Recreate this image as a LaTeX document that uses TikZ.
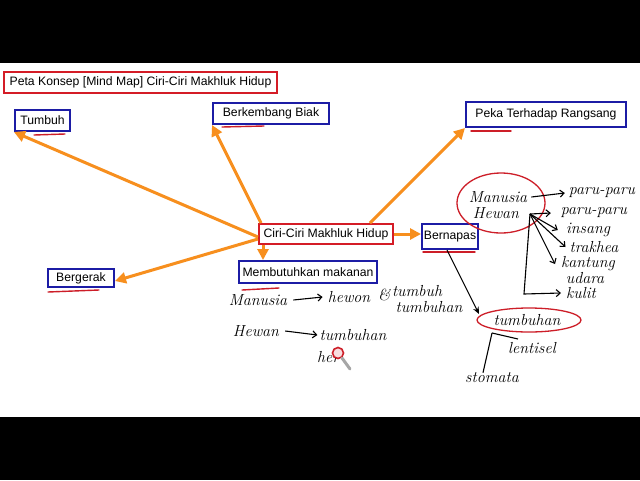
\documentclass[tikz,border=0pt]{standalone}
\usepackage{fontspec}
\newfontfamily\boxfont{Liberation Sans}
\usetikzlibrary{arrows.meta,calc}
\definecolor{arrorange}{RGB}{247,143,30}
\definecolor{boxblue}{RGB}{28,28,165}
\definecolor{boxred}{RGB}{212,28,38}
\definecolor{penred}{RGB}{205,30,40}
\begin{document}
\begin{tikzpicture}[x=1pt,y=-1pt,
  box/.style={draw, line width=2pt, fill=white, inner sep=1pt, font=\boxfont\fontsize{12.2}{14}\selectfont, text=black},
  bluebox/.style={box, draw=boxblue},
  redbox/.style={box, draw=boxred},
  oarrow/.style={draw=arrorange, line width=3pt, -{Triangle[length=11pt,width=11pt]}, arrorange},
  uline/.style={draw=penred, line width=1.4pt, line cap=round},
  pen/.style={draw=penred, line width=1.3pt},
  hw/.style={font=\itshape\fontsize{16}{18}\selectfont, inner sep=0pt, text=black},
  hand/.style={draw=black, line width=1.1pt, -{Straight Barb[length=4pt,width=7pt]}},
  handline/.style={draw=black, line width=1.1pt}]
\fill[black] (0,0) rectangle (640,480);
\fill[white] (0,63) rectangle (640,417);
\useasboundingbox (0,0) rectangle (640,480);

% boxes
\node[redbox, minimum width=273pt, minimum height=21pt] (title) at (140.5,82.5) {Peta Konsep [Mind Map] Ciri-Ciri Makhluk Hidup};
\node[bluebox, minimum width=55pt, minimum height=21pt] (tumbuh) at (42.5,120.5) {Tumbuh};
\node[bluebox, minimum width=116pt, minimum height=21pt] (biak) at (271,113.5) {Berkembang Biak};
\node[bluebox, minimum width=160pt, minimum height=25pt] (peka) at (546,114.5) {Peka Terhadap Rangsang};
\node[redbox, minimum width=134pt, minimum height=20pt] (ciri) at (326,234) {Ciri-Ciri Makhluk Hidup};
\node[bluebox, minimum width=56pt, minimum height=25pt] (napas) at (450,236.5) {Bernapas};
\node[bluebox, minimum width=138pt, minimum height=22pt] (makan) at (308,272) {Membutuhkan makanan};
\node[bluebox, minimum width=66pt, minimum height=18pt] (gerak) at (81,278) {Bergerak};

% orange arrows
\draw[oarrow] ([yshift=-3pt]ciri.west) -- (tumbuh.south west);
\draw[oarrow] ([xshift=3pt]ciri.north west) -- (biak.south west);
\draw[oarrow] ([xshift=44pt]ciri.north) -- (peka.south west);
\draw[oarrow] ([yshift=-5pt]ciri.west) -- ([yshift=-3pt]gerak.east);
\draw[oarrow] ([xshift=5pt]ciri.south west) -- ([xshift=5pt]ciri.south west |- makan.north);
\draw[oarrow] (ciri.east) -- (napas.west |- ciri.east);

% red underlines
\draw[uline] ([shift={(20pt,-3pt)}]tumbuh.south west) -- ++(31,-1);
\draw[uline] ([shift={(10pt,-2pt)}]biak.south west) -- ++(42,-1);
\draw[uline] ([shift={(6pt,-3pt)}]peka.south west) -- ++(40,0);
\draw[uline] ([shift={(2pt,-2pt)}]napas.south west) -- ++(52,0);
\draw[uline] ([shift={(4pt,-6pt)}]makan.south west) -- ++(37,-2);
\draw[uline] ([shift={(1pt,-4pt)}]gerak.south west) -- ++(51,-2);

% handwriting, lower middle
\node[hw] (m1) at (258,300) {Manusia};
\node[hw] (h1) at (349,297) {hewon};
\node[hw] (amp) at (384,295) {\&};
\node[hw] (t1) at (417,291) {tumbuh};
\node[hw] (t2) at (429,307) {tumbuhan};
\draw[hand] ([xshift=6pt]m1.east) -- ([xshift=-5pt]h1.west);
\node[hw] (hw2) at (256,331) {Hewan};
\node[hw] (tb2) at (353,335) {tumbuhan};
\node[hw] (her) at (328,357) {her};
\draw[hand] ([xshift=6pt]hw2.east) -- ([xshift=-2pt]tb2.west);
% cursor
\draw[penred, line width=1.6pt, fill=penred!15] (338,353) circle (5.5);
\draw[gray!70, line width=3pt, line cap=round] (342,358) -- (350,369);

% handwriting, right
\node[hw] (ms) at (498,197) {Manusia};
\node[hw] (hwn) at (496,213) {Hewan};
\node[hw] (pp1) at (602,193) {paru-paru};
\node[hw] (pp2) at (594,213) {paru-paru};
\node[hw] (ins) at (588,230) {insang};
\node[hw] (trk) at (594,247) {trakhea};
\node[hw] (kan) at (588,264) {kantung};
\node[hw] (uda) at (585,278) {udara};
\node[hw] (kul) at (581,293) {kulit};
\draw[pen] (501,203) ellipse (44 and 30);
\coordinate (hub) at (530,214);
\coordinate (kk) at (524,294);
\draw[hand] ([xshift=4pt]ms.east) -- ([xshift=-4pt]pp1.west);
\draw[hand] (hub) -- ([xshift=-10pt]pp2.west);
\draw[hand] (hub) -- ([xshift=-8pt]ins.west);
\draw[hand] (hub) -- ([xshift=-4pt]trk.west);
\draw[hand] (hub) -- ([xshift=-6pt]kan.west);
\draw[hand] (hub) -- (kk) -- ([xshift=-5pt]kul.west);

% tumbuhan branch
\node[hw] (tmb) at (527,320) {tumbuhan};
\draw[pen] (529,320) ellipse (52 and 12);
\coordinate (tip) at (479,314);
\draw[handline, -{Stealth[length=7pt,width=6pt]}] ([xshift=-3pt]napas.south) -- (tip);
\node[hw] (lent) at (532,348) {lentisel};
\node[hw] (stom) at (492,378) {stomata};
\coordinate (fork) at (492,333);
\draw[handline] (fork) -- (518,339);
\draw[handline] (fork) -- ([xshift=-9pt]stom.north);
\end{tikzpicture}
\end{document}
